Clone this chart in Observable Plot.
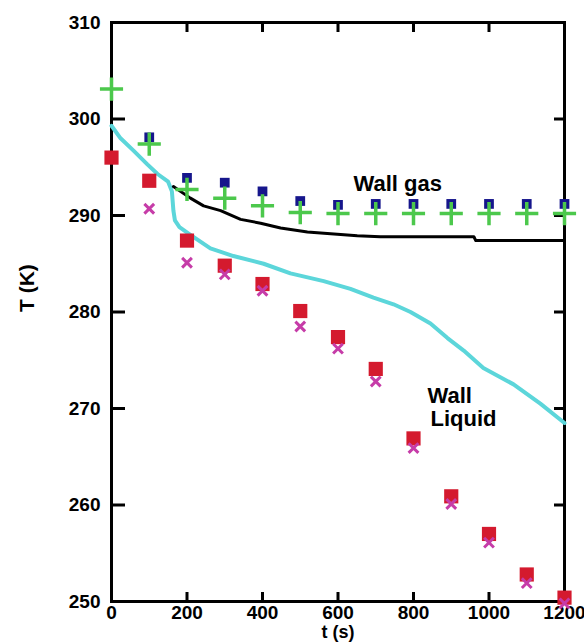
<!DOCTYPE html>
<html><head><meta charset="utf-8">
<script src="https://cdn.jsdelivr.net/npm/d3@7"></script>
<script src="https://cdn.jsdelivr.net/npm/@observablehq/plot@0.6"></script>
<style>body{margin:0;background:#fff;}</style>
</head><body><div id="chart"></div>
<script>
// Data
const times = [0,100,200,300,400,500,600,700,800,900,1000,1100,1200];
const gasBlue = [null,298.1,293.9,293.4,292.5,291.5,291.1,291.2,291.2,291.2,291.2,291.2,291.2];
const gasGreen = [303.1,297.4,292.7,291.8,291.0,290.3,290.2,290.2,290.2,290.2,290.2,290.2,290.2];
const liqRed = [296.0,293.6,287.4,284.8,282.9,280.1,277.4,274.1,266.9,260.9,257.0,252.8,250.4];
const liqMagenta = [null,290.7,285.1,283.9,282.2,278.5,276.2,272.8,265.9,260.1,256.1,251.9,249.8];

const wallGasT = [164,209,244,289,342,395,448,519,651,712,960,965,1200];
const wallGasV = [293.0,291.8,291.0,290.5,289.6,289.2,288.7,288.3,287.9,287.8,287.8,287.4,287.4];

const wallLiqT = [0,24,59,95,122,150,160,164,168,180,209,262,323,403,474,562,633,694,747,792,845,890,933,985,1065,1136,1200];
const wallLiqV = [299.3,298.0,296.7,295.3,294.3,293.5,292.5,290.5,289.5,288.8,288.0,286.6,285.8,285.0,284.0,283.2,282.4,281.5,280.8,280.0,278.8,277.3,276.0,274.2,272.5,270.5,268.5];

const xTicks = [0,200,400,600,800,1000,1200];
const yTicks = [250,260,270,280,290,300,310];

const pts = (ys) => times.map((t,i) => ({t, v: ys[i]})).filter(d => d.v != null);
const line = (ts, vs) => ts.map((t,i) => ({t, v: vs[i]}));

const font = "Liberation Sans, Arial, sans-serif";
const W = 584, H = 642, ML = 111, MR = 20, MT = 22, MB = 41;
const xDom = [0,1200], yDom = [250,310];

const chart = Plot.plot({
  width: W, height: H,
  marginLeft: ML, marginRight: MR, marginTop: MT, marginBottom: MB,
  x: {domain: xDom},
  y: {domain: yDom},
  style: {fontFamily: font, fontSize: "19px", fontWeight: "bold", background: "white", color: "black"},
  marks: [
    Plot.frame({stroke: "black", fill: "none", strokeWidth: 3}),
    Plot.axisX({anchor: "bottom", ticks: xTicks, tickSize: 0, tickPadding: 4, tickFormat: d => String(d), label: null}),
    Plot.axisY({anchor: "left", ticks: yTicks, tickSize: 0, tickPadding: 11, tickFormat: d => String(d), label: null}),
    Plot.axisX({anchor: "top", frameAnchor: "bottom", ticks: xTicks, tickSize: 10, tickFormat: () => "", strokeWidth: 3, label: null}),
    Plot.axisX({anchor: "bottom", frameAnchor: "top", ticks: xTicks, tickSize: 10, tickFormat: () => "", strokeWidth: 3, label: null}),
    Plot.axisY({anchor: "right", frameAnchor: "left", ticks: yTicks, tickSize: 13, tickFormat: () => "", strokeWidth: 3, label: null}),
    Plot.axisY({anchor: "left", frameAnchor: "right", ticks: yTicks, tickSize: 10, tickFormat: () => "", strokeWidth: 3, label: null}),
    Plot.line(line(wallLiqT, wallLiqV), {x: "t", y: "v", stroke: "#5cd6da", strokeWidth: 4}),
    Plot.line(line(wallGasT, wallGasV), {x: "t", y: "v", stroke: "black", strokeWidth: 3}),
    Plot.dot(pts(gasBlue), {x: "t", y: "v", symbol: "square", r: 5.5, fill: "#16168c"}),
    Plot.dot(pts(gasGreen), {x: "t", y: "v", symbol: "plus", r: 7.5, stroke: "#4cc84c", strokeWidth: 3.5}),
    Plot.dot(pts(liqRed), {x: "t", y: "v", symbol: "square", r: 8, fill: "#d41a2e"}),
    Plot.dot(pts(liqMagenta), {x: "t", y: "v", symbol: "times", r: 4.5, stroke: "#c63ca8", strokeWidth: 3}),
    Plot.text(["Wall gas"], {x: 641, y: 292.5, textAnchor: "start", lineAnchor: "bottom", fontSize: 22}),
    Plot.text(["Wall"], {x: 837, y: 270.6, textAnchor: "start", lineAnchor: "bottom", fontSize: 22}),
    Plot.text(["Liquid"], {x: 845, y: 268.2, textAnchor: "start", lineAnchor: "bottom", fontSize: 22}),
    Plot.text(["t (s)"], {frameAnchor: "bottom", dy: 36, lineAnchor: "bottom", fontSize: 18}),
    Plot.text(["T (K)"], {frameAnchor: "left", dx: -84, rotate: -90, fontSize: 21})
  ]
});
document.getElementById("chart").appendChild(chart);
</script>
</body></html>
